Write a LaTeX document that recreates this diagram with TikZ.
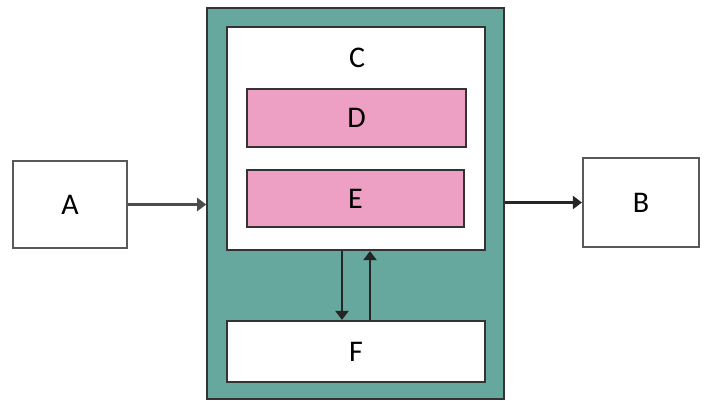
\documentclass[tikz,border=0pt]{standalone}
\usepackage{fontspec}
\setmainfont{Carlito}
\usetikzlibrary{arrows.meta}
\definecolor{tealbg}{HTML}{66A89E}
\definecolor{pinkbg}{HTML}{EDA0C4}
\definecolor{edge}{HTML}{333333}
\tikzset{
  box/.style={draw=edge, line width=2.2pt, fill=white, inner sep=0pt, font=\fontsize{30}{32}\selectfont},
  pinkbox/.style={box, fill=pinkbg},
  conn/.style={draw=black!85, line width=2.2pt, -{Triangle[length=9pt,width=13pt]}}
}
\begin{document}
\begin{tikzpicture}[x=1pt,y=-1pt]
\useasboundingbox (0,0) rectangle (706,401);
\node[box, fill=tealbg, line width=1.6pt, minimum width=297pt, minimum height=391pt] (T) at (355.5,203.5) {};
\node[box, minimum width=258pt, minimum height=223pt] (C) at (356,138.5) {};
\node[font=\fontsize{30}{32}\selectfont] (Cl) at (357,58) {C};
\node[pinkbox, minimum width=219pt, minimum height=58pt] (D) at (356.5,118) {D};
\node[pinkbox, minimum width=217pt, minimum height=57pt] (E) at (355.5,198.5) {E};
\node[box, minimum width=258pt, minimum height=61pt] (F) at (356,351.5) {F};
\node[box, draw=black!65, minimum width=114pt, minimum height=87pt] (A) at (70,204.5) {A};
\node[box, draw=black!65, minimum width=116pt, minimum height=89pt] (B) at (641,202.5) {B};
\draw[conn, draw=black!70] (A.east) -- (A.east -| T.west);
\draw[conn] (T.east |- B.west) -- (B.west);
\draw[conn] ([xshift=-14pt]C.south) -- ([xshift=-14pt]F.north);
\draw[conn] ([xshift=14pt]F.north) -- ([xshift=14pt]C.south);
\end{tikzpicture}
\end{document}
